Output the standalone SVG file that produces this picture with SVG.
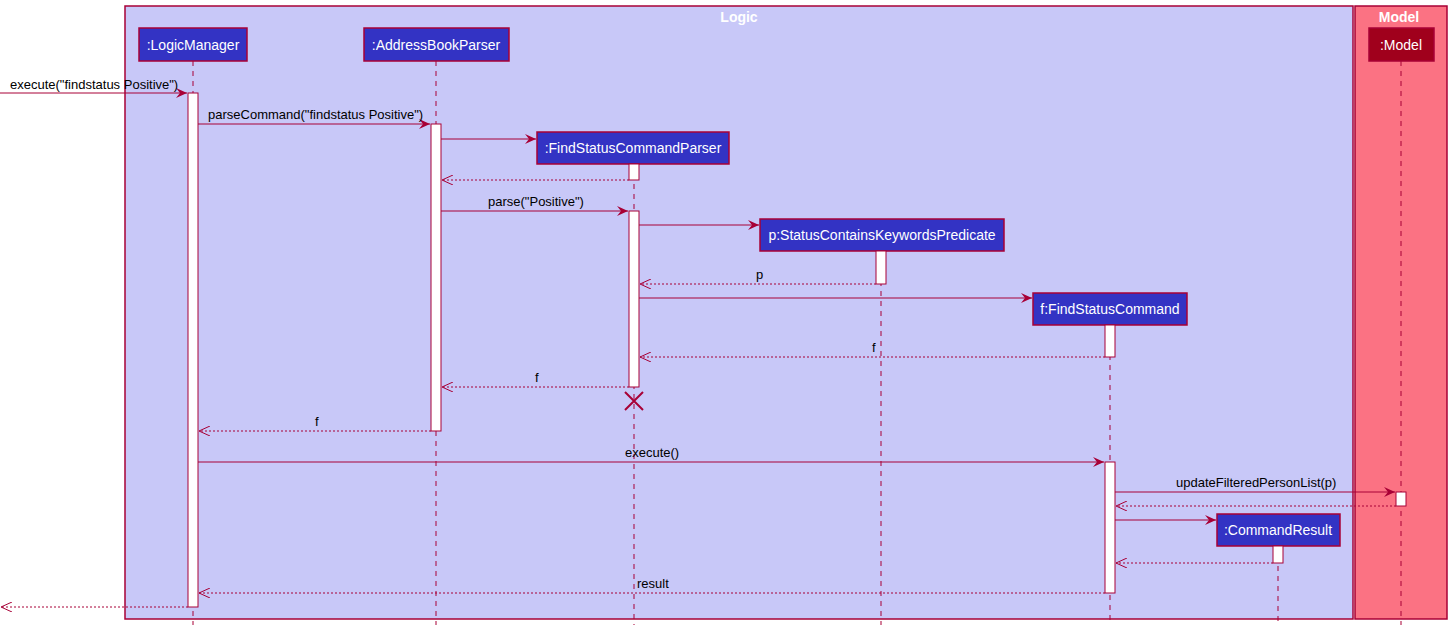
<svg xmlns="http://www.w3.org/2000/svg" width="1452" height="631" viewBox="0 0 1452 631">
<style>
text{font-family:"Liberation Sans",Arial,sans-serif}
.p{fill:#3333C4;stroke:#A80036;stroke-width:1.5}
.pt{fill:#fff;font-size:14px;text-anchor:middle}
.ll{stroke:#A80036;stroke-dasharray:5,5;stroke-width:1}
.act{fill:#fff;stroke:#A80036;stroke-width:1}
.m{stroke:#A80036;stroke-width:1;fill:none}
.r{stroke:#A80036;stroke-width:1;fill:none;stroke-dasharray:2,2}
.lb{font-size:13px;fill:#000}
</style>
<defs>
<marker id="a" viewBox="0 0 12 10" refX="11" refY="5" markerWidth="12" markerHeight="10" markerUnits="userSpaceOnUse" orient="auto"><path d="M0,0 L11,5 L0,10 L4,5 Z" fill="#A80036"/></marker>
<marker id="o" viewBox="0 0 12 10" refX="11" refY="5" markerWidth="12" markerHeight="10" markerUnits="userSpaceOnUse" orient="auto"><path d="M0,0 L11,5 L0,10" fill="none" stroke="#A80036"/></marker>
</defs>
<rect x="125" y="6" width="1228" height="613" fill="#C8C8F8" stroke="#A80036" stroke-width="1.5"/>
<text x="739" y="22" text-anchor="middle" font-weight="bold" font-size="14" fill="#fff">Logic</text>
<rect x="1355" y="6" width="92" height="613" fill="#FB7283" stroke="#A80036" stroke-width="1.5"/>
<text x="1399" y="22" text-anchor="middle" font-weight="bold" font-size="14" fill="#fff">Model</text>
<g id="lifelines">
<line class="ll" x1="193" y1="61" x2="193" y2="625"/>
<line class="ll" x1="436" y1="61" x2="436" y2="625"/>
<line class="ll" x1="634" y1="164" x2="634" y2="625"/>
<line class="ll" x1="881" y1="251" x2="881" y2="625"/>
<line class="ll" x1="1110" y1="325" x2="1110" y2="625"/>
<line class="ll" x1="1278" y1="546" x2="1278" y2="625"/>
<line class="ll" x1="1401" y1="61" x2="1401" y2="625"/>
</g>
<g id="LogicManager"><rect class="p" x="139" y="28" width="108" height="33"/><text class="pt" x="193" y="50">:LogicManager</text><rect class="act" x="188" y="93" width="10" height="514"/></g>
<g id="AddressBookParser"><rect class="p" x="364" y="28" width="145" height="33"/><text class="pt" x="436" y="50">:AddressBookParser</text><rect class="act" x="431" y="124" width="10" height="307"/></g>
<g id="FindStatusCommandParser"><rect class="p" x="537" y="132" width="192" height="32"/><text class="pt" x="633" y="153">:FindStatusCommandParser</text><rect class="act" x="629" y="164" width="10" height="16"/><rect class="act" x="629" y="211" width="10" height="176"/>
<path d="M625,392 L643,410 M643,392 L625,410" stroke="#A80036" stroke-width="2"/></g>
<g id="StatusContainsKeywordsPredicate"><rect class="p" x="760" y="219" width="244" height="32"/><text class="pt" x="882" y="240">p:StatusContainsKeywordsPredicate</text><rect class="act" x="876" y="251" width="10" height="33"/></g>
<g id="FindStatusCommand"><rect class="p" x="1033" y="293" width="154" height="32"/><text class="pt" x="1110" y="314">f:FindStatusCommand</text><rect class="act" x="1105" y="325" width="10" height="32"/><rect class="act" x="1105" y="462" width="10" height="131"/></g>
<g id="CommandResult"><rect class="p" x="1217" y="514" width="123" height="32"/><text class="pt" x="1278" y="535">:CommandResult</text><rect class="act" x="1273" y="546" width="10" height="17"/></g>
<g id="Model"><rect x="1369" y="28" width="65" height="33" fill="#A0001C" stroke="#A80036" stroke-width="1.5"/><text class="pt" x="1401" y="50">:Model</text><rect class="act" x="1396" y="492" width="10" height="14"/></g>
<g id="connectors">
<line class="m" x1="0" y1="93" x2="187" y2="93" marker-end="url(#a)"/><text class="lb" x="10" y="89">execute("findstatus Positive")</text>
<line class="m" x1="198" y1="124" x2="430" y2="124" marker-end="url(#a)"/><text class="lb" x="208" y="119">parseCommand("findstatus Positive")</text>
<line class="m" x1="441" y1="139" x2="536" y2="139" marker-end="url(#a)"/>
<line class="r" x1="629" y1="180" x2="442" y2="180" marker-end="url(#o)"/>
<line class="m" x1="441" y1="211" x2="628" y2="211" marker-end="url(#a)"/><text class="lb" x="488" y="206">parse("Positive")</text>
<line class="m" x1="639" y1="225" x2="759" y2="225" marker-end="url(#a)"/>
<line class="r" x1="876" y1="284" x2="640" y2="284" marker-end="url(#o)"/><text class="lb" x="756" y="279">p</text>
<line class="m" x1="639" y1="298" x2="1032" y2="298" marker-end="url(#a)"/>
<line class="r" x1="1105" y1="357" x2="640" y2="357" marker-end="url(#o)"/><text class="lb" x="872" y="352">f</text>
<line class="r" x1="629" y1="387" x2="442" y2="387" marker-end="url(#o)"/><text class="lb" x="535" y="382">f</text>
<line class="r" x1="431" y1="431" x2="199" y2="431" marker-end="url(#o)"/><text class="lb" x="315" y="426">f</text>
<line class="m" x1="198" y1="462" x2="1104" y2="462" marker-end="url(#a)"/><text class="lb" x="625" y="457">execute()</text>
<line class="m" x1="1115" y1="492" x2="1395" y2="492" marker-end="url(#a)"/><text class="lb" x="1176" y="487">updateFilteredPersonList(p)</text>
<line class="r" x1="1396" y1="506" x2="1116" y2="506" marker-end="url(#o)"/>
<line class="m" x1="1115" y1="520" x2="1216" y2="520" marker-end="url(#a)"/>
<line class="r" x1="1273" y1="563" x2="1116" y2="563" marker-end="url(#o)"/>
<line class="r" x1="1105" y1="593" x2="199" y2="593" marker-end="url(#o)"/><text class="lb" x="637" y="588">result</text>
<line class="r" x1="188" y1="607" x2="1" y2="607" marker-end="url(#o)"/>
</g>
</svg>
